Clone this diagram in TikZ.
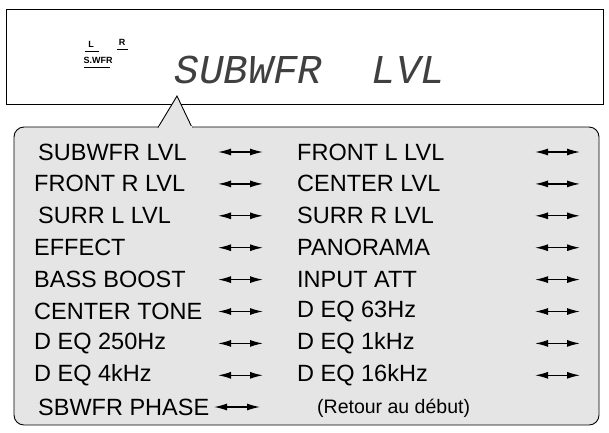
\documentclass[tikz,border=0pt]{standalone}
\usepackage{fontspec}
\setmainfont{Liberation Sans}
\newfontfamily\dotfont{Liberation Mono}
\usetikzlibrary{arrows.meta}
\begin{document}
\begin{tikzpicture}[x=1pt,y=-1pt,
  item/.style={anchor=west,font=\fontsize{23.5}{25}\selectfont,inner sep=0pt},
  arr/.style={{Latex[length=13pt,width=7pt]}-{Latex[length=13pt,width=7pt]},line width=1.3pt}]
\useasboundingbox (0,0) rectangle (609,432);
\draw[line width=0.9pt] (6,9) rectangle (603,104);
\node[inner sep=0pt,font=\fontsize{9}{10}\selectfont\bfseries] (L) at (91,44) {L};
\node[inner sep=0pt,font=\fontsize{9}{10}\selectfont\bfseries] (R) at (122,42) {R};
\node[inner sep=0pt,font=\fontsize{9}{10}\selectfont\bfseries] (SW) at (98,60) {S.WFR};
\draw[line width=1pt] (85,51)--(99,51) (117,49)--(128,49) (84,67)--(110,67);
\node[inner sep=0pt,font=\dotfont\itshape\fontsize{41}{43}\selectfont,color=black!75] (disp) at (310,70) {SUBWFR\ \ LVL};
\draw[line width=0.9pt,fill=black!10,rounded corners=10pt] (158,127) -- (14,127) -- (14,425) -- (599,425) -- (599,127) -- (192,127);
\draw[line width=0.9pt,fill=black!10] (158,127.5) -- (177,96) -- (192,127.5);
\fill[black!10] (158.5,126) rectangle (191.5,128.5);
\foreach \i/\a/\ax/\b in {0/SUBWFR LVL/38/FRONT L LVL, 1/FRONT R LVL/34/CENTER LVL, 2/SURR L LVL/38/SURR R LVL, 3/EFFECT/34/PANORAMA, 4/BASS BOOST/34/INPUT ATT, 5/CENTER TONE/34/D EQ 63Hz, 6/D EQ 250Hz/34/D EQ 1kHz, 7/D EQ 4kHz/34/D EQ 16kHz}{
  \node[item] (a\i) at (\ax,{152+31.9*\i}) {\a};
  \node[item] (b\i) at (297,{152+31.9*\i}) {\b};
  \coordinate (la\i) at (218,{152+31.9*\i}); \coordinate (lb\i) at (263,{152+31.9*\i});
  \coordinate (ra\i) at (535,{152+31.9*\i}); \coordinate (rb\i) at (580,{152+31.9*\i});
  \draw[arr] (la\i) -- (lb\i);
  \draw[arr] (ra\i) -- (rb\i);
}
\node[item] (a8) at (38,407) {SBWFR PHASE};
\node[item,font=\fontsize{19.5}{21}\selectfont] (b8) at (317,408) {(Retour au début)};
\coordinate (la8) at (214,407); \coordinate (lb8) at (260,407);
\draw[arr] (la8) -- (lb8);
\end{tikzpicture}
\end{document}
